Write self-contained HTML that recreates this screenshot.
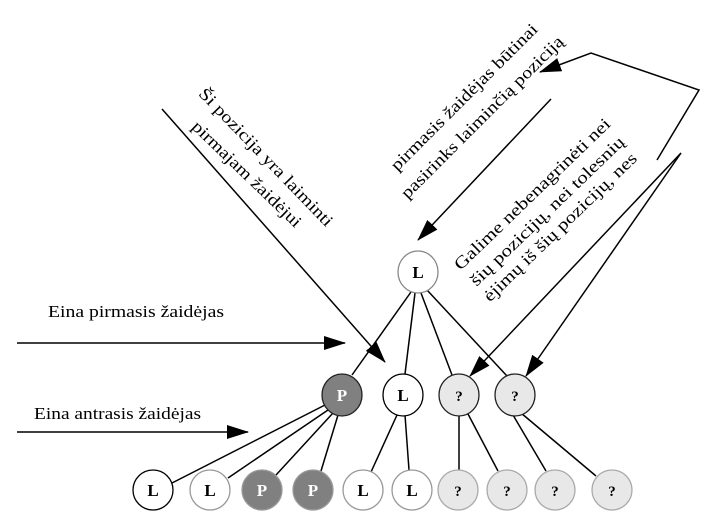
<!DOCTYPE html>
<html><head><meta charset="utf-8"><style>html,body{margin:0;padding:0;background:#fff}svg{display:block}</style></head>
<body>
<svg width="716" height="513" viewBox="0 0 716 513" xmlns="http://www.w3.org/2000/svg" font-family="'Liberation Serif', serif">
<defs>
<marker id="ah" markerWidth="22" markerHeight="14" refX="21" refY="7" orient="auto" markerUnits="userSpaceOnUse">
<path d="M0,0 L22,7 L0,14 Z" fill="#000"/></marker>
</defs>
<g stroke="#000" stroke-width="1.5" fill="none">
<line x1="411" y1="292" x2="352" y2="375"/>
<line x1="415" y1="293" x2="405" y2="374"/>
<line x1="421" y1="293" x2="452" y2="375"/>
<line x1="427" y1="290" x2="507" y2="376"/>
<line x1="325" y1="405" x2="172" y2="483"/>
<line x1="328" y1="410" x2="228" y2="478"/>
<line x1="333" y1="413" x2="276" y2="475"/>
<line x1="338" y1="415" x2="321" y2="471"/>
<line x1="397" y1="415" x2="371" y2="472"/>
<line x1="405" y1="415" x2="409" y2="470"/>
<line x1="459" y1="416" x2="459" y2="470"/>
<line x1="468" y1="414" x2="498" y2="471"/>
<line x1="513" y1="415" x2="546" y2="471"/>
<line x1="521" y1="413" x2="596" y2="476"/>
<line x1="17" y1="343" x2="345" y2="343" marker-end="url(#ah)"/>
<line x1="17" y1="432" x2="248" y2="432" marker-end="url(#ah)"/>
<line x1="162" y1="109" x2="385" y2="362" marker-end="url(#ah)"/>
<line x1="551" y1="99" x2="418" y2="240" marker-end="url(#ah)"/>
<polyline points="657,160 699,90 591,53 540,72" marker-end="url(#ah)"/>
<line x1="681" y1="153" x2="470" y2="376" marker-end="url(#ah)"/>
<line x1="681" y1="153" x2="526" y2="376" marker-end="url(#ah)"/>
</g>
<g stroke-width="1.3" font-weight="bold" font-size="17" text-anchor="middle">
<ellipse cx="418" cy="272" rx="20" ry="21" fill="#fff" stroke="#888"/><text x="418" y="278">L</text>
<ellipse cx="342" cy="395" rx="20" ry="21" fill="#808080" stroke="#222"/><text x="342" y="401" fill="#fff">P</text>
<ellipse cx="403" cy="395" rx="20" ry="21" fill="#fff" stroke="#000"/><text x="403" y="401">L</text>
<ellipse cx="459" cy="395" rx="20" ry="21" fill="#e8e8e8" stroke="#222"/><text x="459" y="401" font-size="15">?</text>
<ellipse cx="515" cy="395" rx="20" ry="21" fill="#e8e8e8" stroke="#222"/><text x="515" y="401" font-size="15">?</text>
<ellipse cx="153" cy="490" rx="20" ry="20" fill="#fff" stroke="#000"/><text x="153" y="496">L</text>
<ellipse cx="210" cy="490" rx="20" ry="20" fill="#fff" stroke="#999"/><text x="210" y="496">L</text>
<ellipse cx="262" cy="490" rx="20" ry="20" fill="#808080" stroke="#999"/><text x="262" y="496" fill="#fff">P</text>
<ellipse cx="313" cy="490" rx="20" ry="20" fill="#808080" stroke="#999"/><text x="313" y="496" fill="#fff">P</text>
<ellipse cx="363" cy="490" rx="20" ry="20" fill="#fff" stroke="#999"/><text x="363" y="496">L</text>
<ellipse cx="412" cy="490" rx="20" ry="20" fill="#fff" stroke="#999"/><text x="412" y="496">L</text>
<ellipse cx="458" cy="490" rx="20" ry="20" fill="#e8e8e8" stroke="#aaa"/><text x="458" y="496" font-size="15">?</text>
<ellipse cx="507" cy="490" rx="20" ry="20" fill="#e8e8e8" stroke="#aaa"/><text x="507" y="496" font-size="15">?</text>
<ellipse cx="555" cy="490" rx="20" ry="20" fill="#e8e8e8" stroke="#aaa"/><text x="555" y="496" font-size="15">?</text>
<ellipse cx="612" cy="490" rx="20" ry="20" fill="#e8e8e8" stroke="#aaa"/><text x="612" y="496" font-size="15">?</text>
</g>
<g font-size="17" fill="#000">
<text x="48" y="317" textLength="176" lengthAdjust="spacingAndGlyphs">Eina pirmasis žaidėjas</text>
<text x="34" y="419" textLength="167" lengthAdjust="spacingAndGlyphs">Eina antrasis žaidėjas</text>
<g text-anchor="middle">
<text transform="translate(262,161) rotate(46)" textLength="185" lengthAdjust="spacingAndGlyphs">Ši pozicija yra laiminti</text>
<text transform="translate(243,178) rotate(44)" textLength="145" lengthAdjust="spacingAndGlyphs">pirmajam žaidėjui</text>
<text transform="translate(468,101) rotate(-45)" textLength="200" lengthAdjust="spacingAndGlyphs">pirmasis žaidėjas būtinai</text>
<text transform="translate(486,121) rotate(-45)" textLength="222" lengthAdjust="spacingAndGlyphs">pasirinks laiminčią poziciją</text>
<text transform="translate(536,198) rotate(-44)" textLength="210" lengthAdjust="spacingAndGlyphs">Galime nebenagrinėti nei</text>
<text transform="translate(551,215) rotate(-44)" textLength="207" lengthAdjust="spacingAndGlyphs">šių pozicijų, nei tolesnių</text>
<text transform="translate(564,231) rotate(-44)" textLength="206" lengthAdjust="spacingAndGlyphs">ėjimų iš šių pozicijų, nes</text>
</g>
</g>
</svg>
</body></html>
